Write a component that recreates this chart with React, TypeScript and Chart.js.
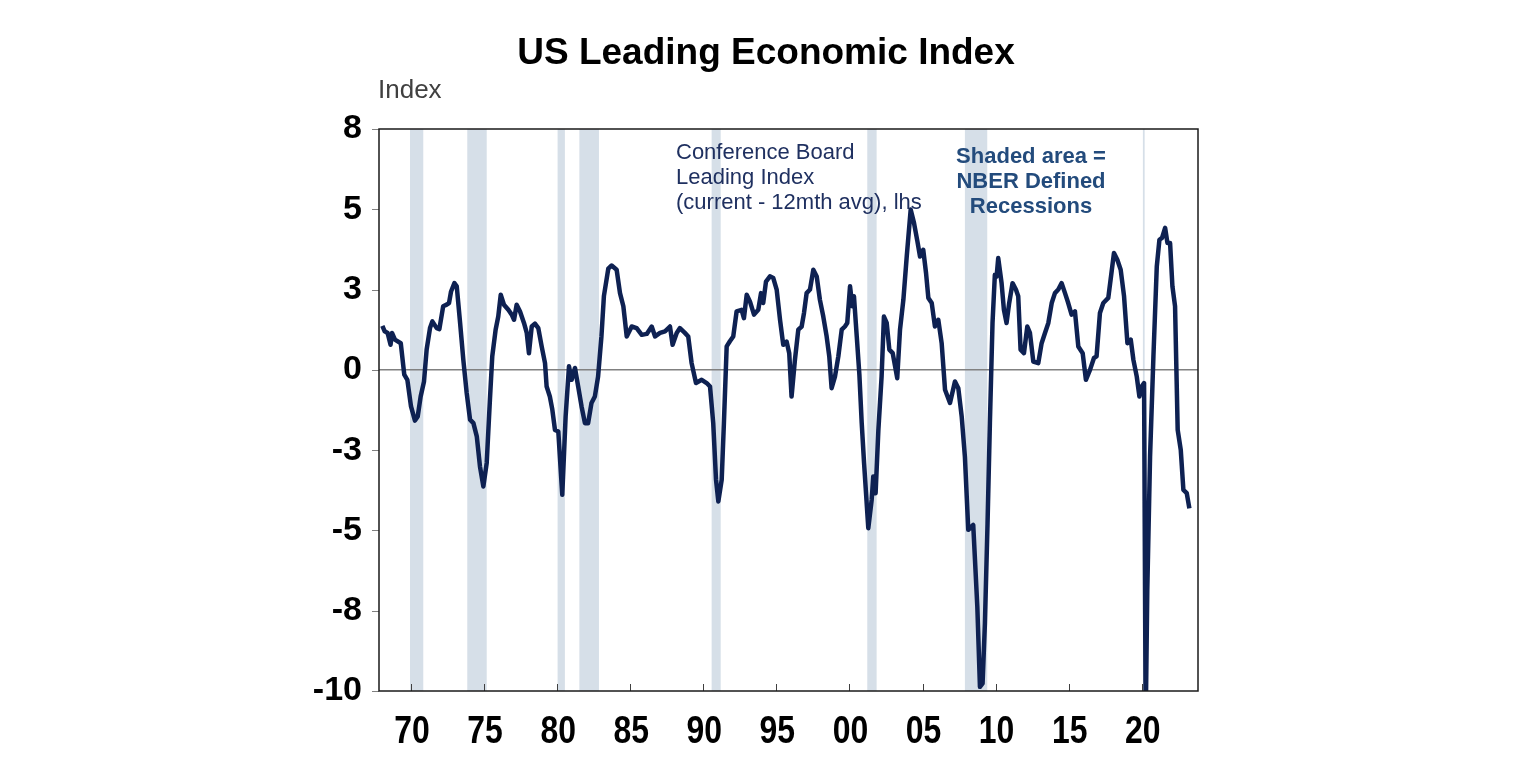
import React, { useEffect, useRef } from "react";
import { Chart, registerables } from "chart.js";

Chart.register(...registerables);

// Decimal year of each observation
const years: number[] = [
  1968.04, 1968.2, 1968.4, 1968.6, 1968.7, 1968.9, 1969.3, 1969.54, 1969.75, 1970.0,
  1970.27, 1970.46, 1970.66, 1970.89, 1971.07, 1971.3, 1971.46, 1971.76, 1971.94, 1972.2,
  1972.44, 1972.6, 1972.74, 1972.97, 1973.13, 1973.36, 1973.58, 1973.81, 1974.04, 1974.27,
  1974.5, 1974.72, 1974.95, 1975.18, 1975.4, 1975.56, 1975.79, 1975.97, 1976.14, 1976.36,
  1976.66, 1976.89, 1977.05, 1977.23, 1977.46, 1977.73, 1977.92, 1978.07, 1978.26, 1978.48,
  1978.71, 1978.94, 1979.17, 1979.28, 1979.5, 1979.67, 1979.85, 1980.08, 1980.35, 1980.58,
  1980.81, 1980.99, 1981.22, 1981.44, 1981.67, 1981.9, 1982.12, 1982.35, 1982.58, 1982.8,
  1983.03, 1983.2, 1983.5, 1983.73, 1984.07, 1984.3, 1984.53, 1984.76, 1985.1, 1985.44,
  1985.79, 1986.13, 1986.47, 1986.7, 1987.04, 1987.38, 1987.72, 1987.9, 1988.18, 1988.4,
  1988.74, 1988.97, 1989.2, 1989.5, 1989.89, 1990.23, 1990.46, 1990.68, 1990.87, 1991.03,
  1991.26, 1991.41, 1991.6, 1991.82, 1992.05, 1992.28, 1992.62, 1992.78, 1992.97, 1993.19,
  1993.47, 1993.76, 1993.95, 1994.1, 1994.29, 1994.56, 1994.79, 1995.02, 1995.25, 1995.47,
  1995.7, 1995.88, 1996.04, 1996.27, 1996.5, 1996.73, 1996.89, 1997.07, 1997.3, 1997.53,
  1997.76, 1997.98, 1998.21, 1998.44, 1998.62, 1998.78, 1999.01, 1999.24, 1999.47, 1999.69,
  1999.85, 2000.04, 2000.2, 2000.31, 2000.5, 2000.68, 2000.84, 2001.0, 2001.29, 2001.52,
  2001.63, 2001.79, 2001.98, 2002.2, 2002.36, 2002.55, 2002.73, 2002.96, 2003.27, 2003.46,
  2003.69, 2003.92, 2004.19, 2004.42, 2004.65, 2004.83, 2005.05, 2005.24, 2005.4, 2005.63,
  2005.85, 2006.08, 2006.31, 2006.54, 2006.88, 2007.22, 2007.45, 2007.68, 2007.9, 2008.13,
  2008.47, 2008.59, 2008.75, 2008.93, 2009.11, 2009.27, 2009.45, 2009.61, 2009.79, 2009.95,
  2010.07, 2010.18, 2010.41, 2010.57, 2010.75, 2010.93, 2011.16, 2011.39, 2011.55, 2011.71,
  2011.94, 2012.17, 2012.35, 2012.58, 2012.92, 2013.15, 2013.38, 2013.61, 2013.84, 2014.06,
  2014.29, 2014.52, 2014.75, 2014.97, 2015.2, 2015.43, 2015.66, 2015.96, 2016.18, 2016.46,
  2016.73, 2016.91, 2017.14, 2017.37, 2017.71, 2017.87, 2018.1, 2018.33, 2018.56, 2018.79,
  2019.02, 2019.25, 2019.43, 2019.66, 2019.84, 2020.0, 2020.16, 2020.27, 2020.38, 2020.57,
  2020.8, 2021.03, 2021.21, 2021.39, 2021.6, 2021.76, 2021.94, 2022.1, 2022.28, 2022.46,
  2022.67, 2022.85, 2023.08, 2023.26,
];

// Conference Board Leading Index (current - 12mth avg)
const leiValues: number[] = [
  1.37, 1.2, 1.15, 0.78, 1.15, 0.94, 0.83, -0.15, -0.31, -1.14,
  -1.58, -1.45, -0.83, -0.36, 0.63, 1.3, 1.51, 1.3, 1.27, 1.98,
  2.03, 2.08, 2.44, 2.7, 2.6, 1.46, 0.31, -0.72, -1.55, -1.66,
  -2.07, -3.01, -3.63, -2.9, -0.93, 0.42, 1.25, 1.66, 2.34, 2.03,
  1.87, 1.72, 1.56, 2.03, 1.82, 1.46, 1.15, 0.52, 1.35, 1.44,
  1.3, 0.73, 0.21, -0.52, -0.83, -1.24, -1.87, -1.92, -3.89, -1.45,
  0.11, -0.31, 0.06, -0.52, -1.14, -1.66, -1.66, -1.03, -0.83, -0.21,
  1.04, 2.3, 3.15, 3.25, 3.12, 2.39, 1.98, 1.04, 1.35, 1.3,
  1.09, 1.12, 1.35, 1.04, 1.15, 1.2, 1.35, 0.78, 1.15, 1.3,
  1.15, 1.04, 0.21, -0.41, -0.31, -0.41, -0.52, -1.66, -3.42, -4.1,
  -3.42, -1.66, 0.73, 0.89, 1.04, 1.82, 1.87, 1.61, 2.34, 2.13,
  1.72, 1.87, 2.39, 2.08, 2.75, 2.91, 2.86, 2.5, 1.56, 0.78,
  0.88, 0.52, -0.83, 0.31, 1.25, 1.35, 1.77, 2.39, 2.5, 3.12,
  2.91, 2.18, 1.66, 1.04, 0.42, -0.57, -0.21, 0.42, 1.25, 1.35,
  1.46, 2.6, 1.98, 2.29, 1.04, -0.15, -1.66, -2.9, -4.93, -4.05,
  -3.32, -3.84, -1.87, -0.21, 1.66, 1.46, 0.63, 0.52, -0.26, 1.25,
  2.18, 3.53, 4.99, 4.57, 4.0, 3.53, 3.74, 3.02, 2.24, 2.08,
  1.35, 1.56, 0.83, -0.62, -1.03, -0.36, -0.57, -1.45, -2.7, -4.98,
  -4.83, -5.92, -7.37, -9.87, -9.76, -7.89, -4.77, -1.66, 1.46, 2.96,
  2.91, 3.48, 2.7, 1.87, 1.46, 2.08, 2.7, 2.5, 2.29, 0.63,
  0.52, 1.35, 1.15, 0.26, 0.21, 0.83, 1.15, 1.46, 2.08, 2.39,
  2.5, 2.7, 2.39, 2.08, 1.72, 1.82, 0.73, 0.52, -0.31, 0.0,
  0.37, 0.42, 1.77, 2.08, 2.24, 2.81, 3.64, 3.43, 3.12, 2.29,
  0.83, 0.94, 0.31, -0.21, -0.83, -0.52, -0.41, -11.0, -6.85, -2.7,
  0.42, 3.22, 4.05, 4.11, 4.42, 3.95, 3.95, 2.6, 1.98, -1.87,
  -2.49, -3.74, -3.84, -4.31,
];

// NBER recession periods (decimal years)
const recessionStarts: number[] = [1969.93, 1973.85, 1980.03, 1981.52, 1990.57, 2001.22, 2007.9, 2020.08];
const recessionEnds: number[] = [1970.84, 1975.18, 1980.53, 1982.86, 1991.19, 2001.86, 2009.43, 2020.2];

const xTickYears: number[] = [1970, 1975, 1980, 1985, 1990, 1995, 2000, 2005, 2010, 2015, 2020];

const titleText = "US Leading Economic Index";
const axisUnitText = "Index";
const seriesNote: string[] = ["Conference Board", "Leading Index", "(current - 12mth avg), lhs"];
const shadeNote: string[] = ["Shaded area =", "NBER Defined", "Recessions"];

const FONT = "'Liberation Sans', Arial, sans-serif";

const xLabel = (v: number) => String(v % 100).padStart(2, "0");

const decorPlugin = {
  id: "decor",
  beforeDatasetsDraw(chart: any) {
    const { ctx, chartArea, scales } = chart;
    const x = scales.x;
    const y = scales.y;
    ctx.save();
    ctx.fillStyle = "#d6dfe8";
    for (let i = 0; i < recessionStarts.length; i++) {
      const x0 = x.getPixelForValue(recessionStarts[i]);
      const x1 = x.getPixelForValue(recessionEnds[i]);
      ctx.fillRect(x0, chartArea.top, Math.max(1.5, x1 - x0), chartArea.bottom - chartArea.top);
    }
    // zero line
    const y0 = y.getPixelForValue(0);
    ctx.strokeStyle = "#808080";
    ctx.lineWidth = 1.5;
    ctx.beginPath();
    ctx.moveTo(chartArea.left, y0);
    ctx.lineTo(chartArea.right, y0);
    ctx.stroke();
    ctx.restore();
  },
  afterDatasetsDraw(chart: any) {
    const { ctx, chartArea, scales } = chart;
    const x = scales.x;
    const y = scales.y;
    ctx.save();
    // y tick marks (outside)
    ctx.strokeStyle = "#808080";
    ctx.lineWidth = 1;
    y.ticks.forEach((t: any) => {
      const py = Math.round(y.getPixelForValue(t.value)) + 0.5;
      ctx.beginPath();
      ctx.moveTo(chartArea.left - 7, py);
      ctx.lineTo(chartArea.left, py);
      ctx.stroke();
    });
    // x tick marks (inside)
    ctx.strokeStyle = "#404040";
    xTickYears.forEach((v) => {
      const px = Math.round(x.getPixelForValue(v)) + 0.5;
      ctx.beginPath();
      ctx.moveTo(px, chartArea.bottom);
      ctx.lineTo(px, chartArea.bottom - 7);
      ctx.stroke();
    });
    // box border
    ctx.strokeStyle = "#1a1a1a";
    ctx.lineWidth = 1.5;
    ctx.strokeRect(chartArea.left, chartArea.top, chartArea.right - chartArea.left, chartArea.bottom - chartArea.top);

    // x tick labels (condensed bold, positioned by the x scale)
    ctx.fillStyle = "#000000";
    ctx.textAlign = "center";
    ctx.textBaseline = "middle";
    ctx.font = `bold 38px ${FONT}`;
    xTickYears.forEach((v) => {
      const px = x.getPixelForValue(v);
      ctx.save();
      ctx.translate(px + 1, chartArea.bottom + 42);
      ctx.scale(0.84, 1);
      ctx.fillText(xLabel(v), 0, 0);
      ctx.restore();
    });

    // texts
    ctx.textBaseline = "middle";
    ctx.fillStyle = "#000000";
    ctx.textAlign = "center";
    ctx.font = `bold 37px ${FONT}`;
    ctx.fillText(titleText, 766, 54);

    ctx.textAlign = "left";
    ctx.fillStyle = "#404040";
    ctx.font = `26px ${FONT}`;
    ctx.fillText(axisUnitText, 378, 91);

    ctx.fillStyle = "#1f3060";
    ctx.font = `22px ${FONT}`;
    seriesNote.forEach((s, i) => ctx.fillText(s, 676, 153 + i * 25));

    ctx.textAlign = "center";
    ctx.fillStyle = "#234b7c";
    ctx.font = `bold 22px ${FONT}`;
    shadeNote.forEach((s, i) => ctx.fillText(s, 1031, 157 + i * 25));
    ctx.restore();
  },
};

export default function App() {
  const canvasRef = useRef<HTMLCanvasElement | null>(null);

  useEffect(() => {
    const canvas = canvasRef.current;
    if (!canvas) return;
    const data = years.map((yr, i) => ({ x: yr, y: leiValues[i] }));
    const chart = new Chart(canvas, {
      type: "line",
      data: {
        datasets: [
          {
            label: "Leading Index",
            data,
            borderColor: "#0e2152",
            borderWidth: 4.5,
            pointRadius: 0,
            tension: 0,
            fill: false,
            borderJoinStyle: "round",
          },
        ],
      },
      options: {
        responsive: false,
        animation: false,
        layout: { padding: { left: 300, top: 129, right: 338, bottom: 24 } },
        plugins: { legend: { display: false }, tooltip: { enabled: false }, title: { display: false } },
        scales: {
          x: {
            type: "linear",
            min: 1967.81,
            max: 2023.85,
            afterBuildTicks: (scale: any) => {
              scale.ticks = xTickYears.map((v) => ({ value: v }));
            },
            afterFit: (scale: any) => {
              scale.height = 60;
            },
            grid: { display: false, drawTicks: false },
            border: { display: false },
            ticks: { display: false },
          },
          y: {
            type: "linear",
            min: -10,
            max: 7.5,
            afterFit: (scale: any) => {
              scale.width = 79;
            },
            grid: { display: false, drawTicks: false },
            border: { display: false },
            ticks: {
              stepSize: 2.5,
              padding: 17,
              color: "#000000",
              font: { family: FONT, size: 34, weight: "bold" },
              callback: (v: any) => {
                const n = Number(v);
                return String(Math.sign(n) * Math.round(Math.abs(n)));
              },
            },
          },
        },
      },
      plugins: [decorPlugin],
    });
    return () => chart.destroy();
  }, []);

  return (
    <div style={{ position: "fixed", left: 0, top: 0, width: 1536, height: 775, background: "#ffffff" }}>
      <canvas ref={canvasRef} width={1536} height={775} style={{ width: 1536, height: 775, display: "block" }} />
    </div>
  );
}
